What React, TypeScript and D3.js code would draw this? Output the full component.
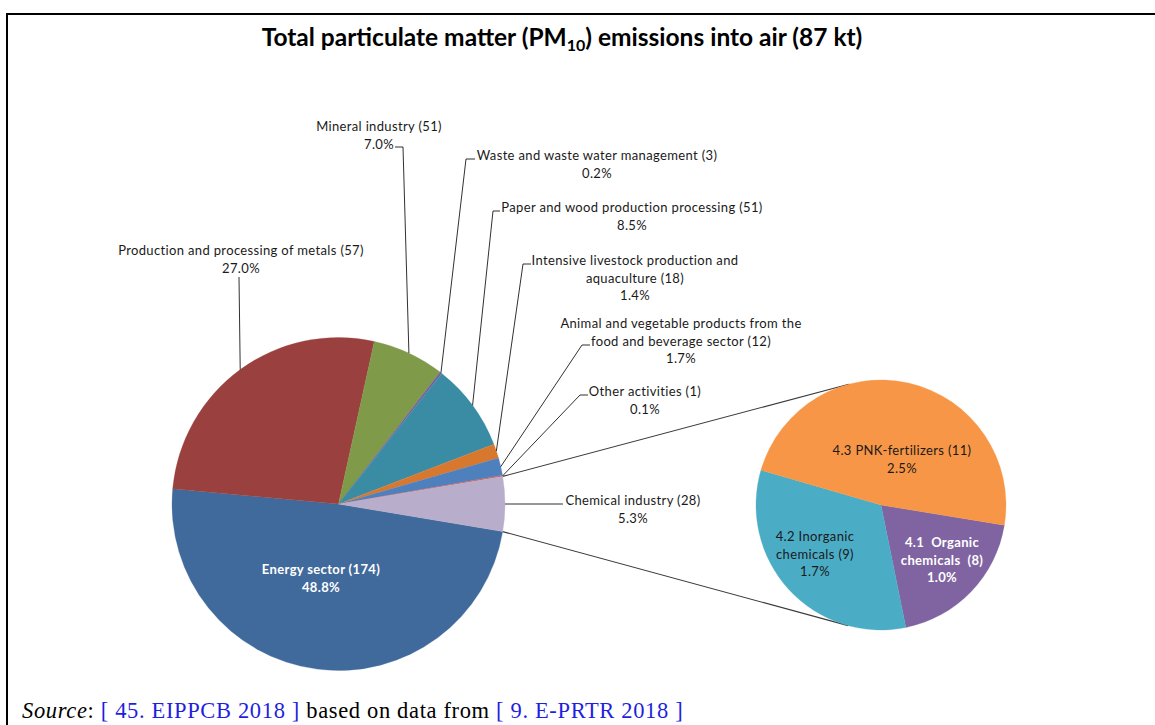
import React from 'react';
import * as d3 from 'd3';

// ---------- data ----------
const mainCategories = [
  'Energy sector',
  'Production and processing of metals',
  'Mineral industry',
  'Waste and waste water management',
  'Paper and wood production processing',
  'Intensive livestock production and\naquaculture',
  'Animal and vegetable products from the\nfood and beverage sector',
  'Other activities',
  'Chemical industry',
];
const mainCounts = [174, 57, 51, 3, 51, 18, 12, 1, 28];
const mainShares = [48.8, 27.0, 7.0, 0.2, 8.5, 1.4, 1.7, 0.1, 5.3];

const subCategories = ['4.1  Organic\nchemicals ', '4.2 Inorganic\nchemicals', '4.3 PNK-fertilizers'];
const subCounts = [8, 9, 11];
const subShares = [1.0, 1.7, 2.5];

const titleParts = ['Total particulate matter (PM', '10', ') emissions into air (87 kt)'];
const sourceParts = ['Source', ': ', '[ 45. EIPPCB 2018 ]', ' based on data from ', '[ 9. E-PRTR 2018 ]'];

// ---------- styles / layout ----------
const W = 1155;
const H = 725;
const mainColors = ['#416A9C', '#9A403E', '#7F9A49', '#7660A0', '#3A8CA4', '#D8782F', '#4E80BE', '#C9605C', '#B8AECB'];
const subColors = ['#8064A2', '#4BACC6', '#F79646'];
const FONT = 'Lato, "Open Sans", sans-serif';

const mainC = { x: 338.5, y: 504, r: 166.5 };
const subC = { x: 881, y: 505, r: 125 };
const subStart = (99.3 * Math.PI) / 180;
const LH = 17.5;

type Lbl = { x: number; y: number; leader: [number, number][] | null; fill: string; weight: number };
const mainLayout: Lbl[] = [
  { x: 321, y: 569, leader: null, fill: '#ffffff', weight: 700 },
  { x: 241, y: 250, leader: [[239, 277]], fill: '#1a1a1a', weight: 400 },
  { x: 379, y: 126, leader: [[395, 147], [403, 147]], fill: '#1a1a1a', weight: 400 },
  { x: 597, y: 155, leader: [[475, 159], [466, 159]], fill: '#1a1a1a', weight: 400 },
  { x: 632, y: 207, leader: [[500, 211], [493, 211]], fill: '#1a1a1a', weight: 400 },
  { x: 635, y: 260, leader: [[531, 264], [523, 264]], fill: '#1a1a1a', weight: 400 },
  { x: 681, y: 323, leader: [[590, 345], [582, 345]], fill: '#1a1a1a', weight: 400 },
  { x: 645, y: 391, leader: [[588, 395], [580, 395]], fill: '#1a1a1a', weight: 400 },
  { x: 633, y: 500, leader: [[563, 504]], fill: '#1a1a1a', weight: 400 },
];
const subLayout: Lbl[] = [
  { x: 942, y: 542, leader: null, fill: '#ffffff', weight: 700 },
  { x: 815, y: 536, leader: null, fill: '#1a1a1a', weight: 400 },
  { x: 902, y: 450, leader: null, fill: '#1a1a1a', weight: 400 },
];

function labelLines(name: string, count: number, share: number): string[] {
  const lines = `${name} (${count})`.split('\n');
  lines.push(`${share.toFixed(1)}%`);
  return lines;
}

function tangentPoints(px: number, py: number, cx: number, cy: number, r: number) {
  const dx = px - cx;
  const dy = py - cy;
  const d = Math.hypot(dx, dy);
  const th = Math.atan2(dy, dx);
  const a = Math.acos(r / d);
  const p1: [number, number] = [cx + r * Math.cos(th + a), cy + r * Math.sin(th + a)];
  const p2: [number, number] = [cx + r * Math.cos(th - a), cy + r * Math.sin(th - a)];
  return p1[1] < p2[1] ? { top: p1, bottom: p2 } : { top: p2, bottom: p1 };
}

export default function App() {
  const total = d3.sum(mainShares);
  const splitIdx = mainShares.length - 1;
  // Excel centres the split slice at 3 o'clock
  const frac = (total - mainShares[splitIdx] / 2) / total;
  const start = Math.PI / 2 - frac * 2 * Math.PI + 2 * Math.PI;

  const pie = d3
    .pie<number>()
    .sort(null)
    .value((d) => d)
    .startAngle(start)
    .endAngle(start + 2 * Math.PI);
  const mainArcs = pie(mainShares);

  const subPie = d3
    .pie<number>()
    .sort(null)
    .value((d) => d)
    .startAngle(subStart)
    .endAngle(subStart + 2 * Math.PI);
  const subArcs = subPie(subShares);

  const arcMain = d3.arc<d3.PieArcDatum<number>>().innerRadius(0).outerRadius(mainC.r);
  const edgeMain = d3.arc<d3.PieArcDatum<number>>().innerRadius(mainC.r).outerRadius(mainC.r);
  const arcSub = d3.arc<d3.PieArcDatum<number>>().innerRadius(0).outerRadius(subC.r);

  const split = mainArcs[splitIdx];
  const pA: [number, number] = [mainC.x + mainC.r * Math.sin(split.startAngle), mainC.y - mainC.r * Math.cos(split.startAngle)];
  const pB: [number, number] = [mainC.x + mainC.r * Math.sin(split.endAngle), mainC.y - mainC.r * Math.cos(split.endAngle)];
  const tA = tangentPoints(pA[0], pA[1], subC.x, subC.y, subC.r).top;
  const tB = tangentPoints(pB[0], pB[1], subC.x, subC.y, subC.r).bottom;

  const line = d3.line();

  const renderLabel = (lines: string[], l: Lbl, key: string) => (
    <g key={key}>
      {lines.map((t, i) => (
        <text
          key={i}
          x={l.x}
          y={l.y + i * LH}
          textAnchor="middle"
          dominantBaseline="central"
          fontFamily={FONT}
          fontSize={13}
          letterSpacing={0.35}
          fontWeight={l.weight}
          fill={l.fill}
          style={{ whiteSpace: 'pre' }}
        >
          {t}
        </text>
      ))}
    </g>
  );

  return (
    <svg width={W} height={H} style={{ position: 'absolute', left: 0, top: 0, display: 'block', background: '#fff' }}>
      <rect x={0} y={0} width={W} height={H} fill="#fff" />
      {/* frame */}
      <line x1={6} y1={14} x2={W} y2={14} stroke="#000" strokeWidth={2} />
      <line x1={7} y1={13} x2={7} y2={H} stroke="#000" strokeWidth={2} />

      {/* title */}
      <text x={562} y={46} textAnchor="middle" fontFamily={FONT} fontWeight={700} fontSize={24.5} fill="#000">
        {titleParts[0]}
        <tspan fontSize={16} dy={5}>
          {titleParts[1]}
        </tspan>
        <tspan dy={-5}>{titleParts[2]}</tspan>
      </text>

      {/* connector lines */}
      <path d={line([pA, tA]) || ''} stroke="#3a3a3a" strokeWidth={1.1} fill="none" />
      <path d={line([pB, tB]) || ''} stroke="#3a3a3a" strokeWidth={1.1} fill="none" />

      {/* main pie */}
      <g transform={`translate(${mainC.x},${mainC.y})`}>
        {mainArcs.map((a, i) => (
          <path key={i} d={arcMain(a) || ''} fill={mainColors[i]} stroke={mainColors[i]} strokeWidth={0.3} />
        ))}
      </g>

      {/* leader lines */}
      {mainArcs.map((a, i) => {
        const l = mainLayout[i];
        if (!l.leader) return null;
        const c = edgeMain.centroid(a);
        const pts: [number, number][] = [...l.leader, [mainC.x + c[0], mainC.y + c[1]]];
        return <path key={i} d={line(pts) || ''} stroke="#1a1a1a" strokeWidth={0.9} fill="none" />;
      })}

      {/* secondary pie */}
      <g transform={`translate(${subC.x},${subC.y})`}>
        {subArcs.map((a, i) => (
          <path key={i} d={arcSub(a) || ''} fill={subColors[i]} stroke={subColors[i]} strokeWidth={0.3} />
        ))}
      </g>

      {/* labels */}
      {mainArcs.map((a, i) => renderLabel(labelLines(mainCategories[i], mainCounts[i], mainShares[i]), mainLayout[i], 'm' + i))}
      {subArcs.map((a, i) => renderLabel(labelLines(subCategories[i], subCounts[i], subShares[i]), subLayout[i], 's' + i))}

      {/* source */}
      <text
        x={22}
        y={718}
        fontFamily='"Liberation Serif", "Times New Roman", serif'
        fontSize={22.5}
        letterSpacing={0.65}
        fill="#000"
        style={{ whiteSpace: 'pre' }}
      >
        <tspan fontStyle="italic">{sourceParts[0]}</tspan>
        <tspan>{sourceParts[1]}</tspan>
        <tspan fill="#1f1fe0">{sourceParts[2]}</tspan>
        <tspan>{sourceParts[3]}</tspan>
        <tspan fill="#1f1fe0">{sourceParts[4]}</tspan>
      </text>
    </svg>
  );
}
